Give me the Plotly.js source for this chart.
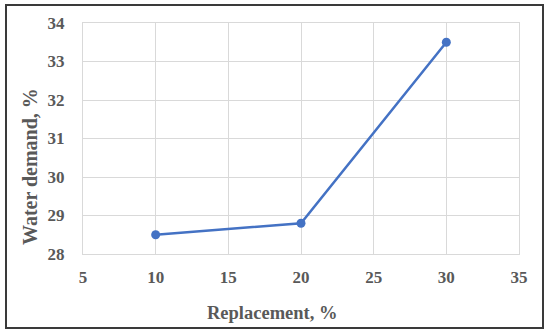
<!DOCTYPE html>
<html>
<head>
<meta charset="utf-8">
<script src="https://cdn.plot.ly/plotly-3.0.1.min.js"></script>
<style>html,body{margin:0;padding:0;background:#fff;}#chart{width:550px;height:334px;}</style>
</head>
<body>
<div id="chart"></div>
<script>
const replacement = [10, 20, 30];
const waterDemand = [28.5, 28.8, 33.5];
const xTicks = [5, 10, 15, 20, 25, 30, 35];
const yTicks = [28, 29, 30, 31, 32, 33, 34];
const xTitle = 'Replacement, %';
const yTitle = 'Water demand, %';

const W = 550, H = 334;
const m = {l: 83, r: 31, t: 23, b: 80};
const pw = W - m.l - m.r, ph = H - m.t - m.b;
const px = v => (v - m.l) / pw;
const py = v => 1 - (v - m.t) / ph;

const fam = '"Liberation Serif", "Times New Roman", serif';
const grey = '#595959';

Plotly.newPlot('chart', [{
  x: replacement, y: waterDemand, type: 'scatter', mode: 'lines+markers',
  line: {color: '#4472C4', width: 2.5},
  marker: {color: '#4472C4', size: 9},
  cliponaxis: false
}], {
  width: W, height: H, margin: m,
  paper_bgcolor: '#fff', plot_bgcolor: '#fff',
  showlegend: false,
  font: {family: fam, color: grey},
  xaxis: {
    range: [5, 35], tickvals: xTicks, ticktext: xTicks.map(String),
    showgrid: true, gridcolor: '#d9d9d9', gridwidth: 1,
    zeroline: false, showline: true, linecolor: '#d9d9d9', mirror: true,
    ticks: '', ticklabelstandoff: 8,
    tickfont: {family: fam, size: 17, color: grey, weight: 'bold'}
  },
  yaxis: {
    range: [28, 34], tickvals: yTicks, ticktext: yTicks.map(String),
    showgrid: true, gridcolor: '#d9d9d9', gridwidth: 1,
    zeroline: false, showline: true, linecolor: '#d9d9d9', mirror: true,
    ticks: '', ticklabelstandoff: 14,
    tickfont: {family: fam, size: 17, color: grey, weight: 'bold'}
  },
  annotations: [
    {text: '<b>' + xTitle + '</b>', xref: 'paper', yref: 'paper', x: px(272), y: py(313),
     xanchor: 'center', yanchor: 'middle', showarrow: false,
     font: {family: fam, size: 18.5, color: grey}},
    {text: '<b>' + yTitle + '</b>', xref: 'paper', yref: 'paper', x: px(30), y: py(167),
     xanchor: 'center', yanchor: 'middle', showarrow: false, textangle: -90,
     font: {family: fam, size: 20, color: grey}}
  ],
  shapes: [{
    type: 'rect', xref: 'paper', yref: 'paper',
    x0: px(6), x1: px(543), y0: py(5), y1: py(328),
    line: {color: '#3a3a3a', width: 2}, layer: 'below'
  }]
}, {displayModeBar: false, staticPlot: true});
</script>
</body>
</html>
